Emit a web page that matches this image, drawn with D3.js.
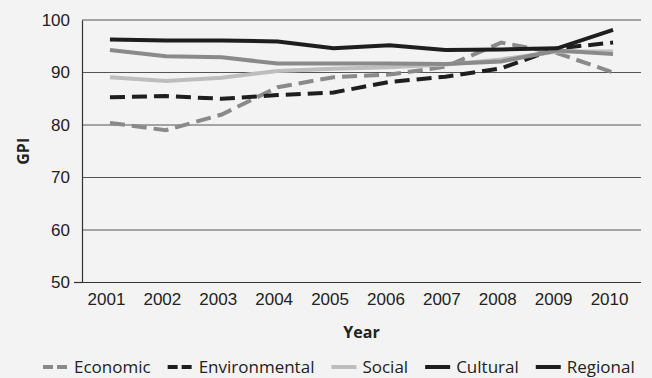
<!DOCTYPE html>
<html>
<head>
<meta charset="utf-8">
<script src="https://cdn.jsdelivr.net/npm/d3@7"></script>
<style>
  body { margin: 0; background: #f3f3f3; }
  svg { display: block; font-family: "Open Sans", sans-serif; }
</style>
</head>
<body>
<svg id="chart" width="652" height="378"></svg>
<script>
const years = ["2001", "2002", "2003", "2004", "2005", "2006", "2007", "2008", "2009", "2010"];
const yTicks = [50, 60, 70, 80, 90, 100];

const economic = [80.4, 79.0, 82.0, 87.2, 89.1, 89.6, 91.1, 95.7, 93.7, 90.0];
const environmental = [85.3, 85.5, 85.0, 85.7, 86.2, 88.2, 89.2, 90.8, 94.6, 95.7];
const social = [89.1, 88.4, 89.0, 90.3, 90.7, 91.0, 91.5, 92.5, 94.0, 94.0];
const cultural = [94.3, 93.1, 92.9, 91.7, 91.7, 91.7, 91.6, 92.1, 94.2, 93.5];
const regional = [96.3, 96.1, 96.1, 95.9, 94.6, 95.2, 94.3, 94.4, 94.6, 98.1];

const series = [
  { name: "Economic", values: economic, color: "#8a8a8a", key: "#8a8a8a", dash: true },
  { name: "Environmental", values: environmental, color: "#1e1e1e", key: "#1e1e1e", dash: true },
  { name: "Social", values: social, color: "#bdbdbd", key: "#bdbdbd", dash: false },
  { name: "Cultural", values: cultural, color: "#8a8a8a", key: "#1e1e1e", dash: false },
  { name: "Regional", values: regional, color: "#1e1e1e", key: "#1e1e1e", dash: false }
];

const margin = { top: 20, right: 11, bottom: 95.5, left: 82 };
const svg = d3.select("#chart");
const width = +svg.attr("width") - margin.left - margin.right;
const height = +svg.attr("height") - margin.top - margin.bottom;

const g = svg.append("g").attr("transform", `translate(${margin.left},${margin.top})`);

const x = d3.scalePoint().domain(years).range([0, width]).padding(0.5);
const y = d3.scaleLinear().domain([50, 100]).range([height, 0]);

// gridlines
g.selectAll("line.grid")
  .data(yTicks)
  .join("line")
  .attr("class", "grid")
  .attr("x1", 0)
  .attr("x2", width)
  .attr("y1", (d) => y(d))
  .attr("y2", (d) => y(d))
  .attr("stroke", (d) => (d === 50 ? "#333" : "#555"))
  .attr("stroke-width", (d) => (d === 50 ? 1.2 : 1));

// y axis
const yAxis = g.append("g").call(d3.axisLeft(y).tickValues(yTicks).tickSize(0).tickPadding(12));
yAxis.select(".domain").attr("stroke", "#333").attr("stroke-width", 1.2);
yAxis.selectAll("text").attr("font-size", 17).attr("fill", "#222");
g.append("line")
  .attr("x1", -8).attr("x2", 0)
  .attr("y1", y(50)).attr("y2", y(50))
  .attr("stroke", "#333").attr("stroke-width", 1.2);

// x axis
const xAxis = g.append("g")
  .attr("transform", `translate(0,${height})`)
  .call(d3.axisBottom(x).tickSize(0).tickPadding(10));
xAxis.select(".domain").remove();
xAxis.selectAll("text").attr("font-size", 17).attr("fill", "#222").attr("dx", -4);

// axis titles
svg.append("text")
  .attr("x", margin.left + width / 2)
  .attr("y", 338)
  .attr("text-anchor", "middle")
  .attr("font-size", 16)
  .attr("font-weight", "bold")
  .attr("fill", "#222")
  .text("Year");

svg.append("text")
  .attr("transform", `translate(29,${margin.top + height / 2}) rotate(-90)`)
  .attr("text-anchor", "middle")
  .attr("font-size", 16)
  .attr("font-weight", "bold")
  .attr("fill", "#222")
  .text("GPI");

// lines
const line = d3.line()
  .x((d, i) => x(years[i]))
  .y((d) => y(d));

g.selectAll("path.series")
  .data(series)
  .join("path")
  .attr("class", "series")
  .attr("fill", "none")
  .attr("stroke", (d) => d.color)
  .attr("stroke-width", 4)
  .attr("stroke-dasharray", (d) => (d.dash ? "15,7" : null))
  .attr("d", (d) => line(d.values));

// legend
const legend = svg.append("g").attr("transform", "translate(43,367)");
let lx = 0;
series.forEach((s) => {
  const item = legend.append("g").attr("transform", `translate(${lx},0)`);
  item.append("line")
    .attr("x1", 0).attr("x2", 25)
    .attr("y1", 0).attr("y2", 0)
    .attr("stroke", s.key)
    .attr("stroke-width", 4)
    .attr("stroke-dasharray", s.dash ? "10,4" : null);
  const t = item.append("text")
    .attr("x", 31)
    .attr("y", 6)
    .attr("font-size", 17)
    .attr("fill", "#222")
    .text(s.name);
  lx += 31 + t.node().getComputedTextLength() + 17;
});
</script>
</body>
</html>
